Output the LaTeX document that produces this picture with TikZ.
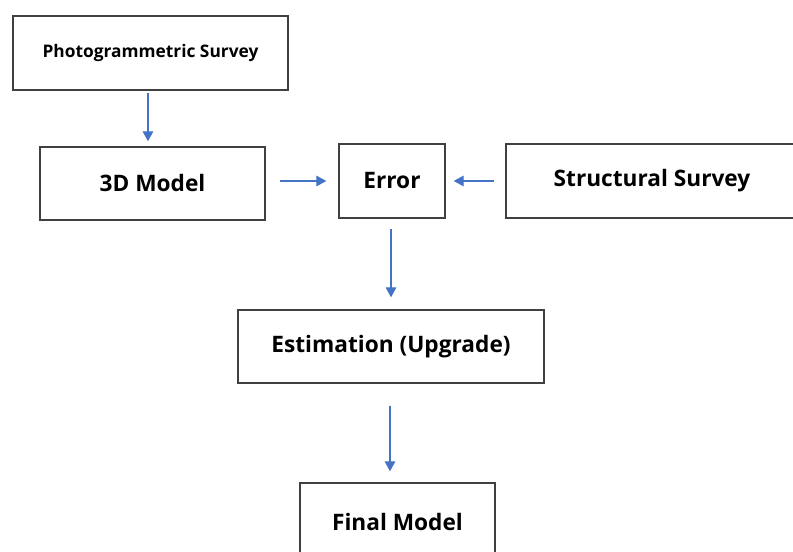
\documentclass[tikz,border=0pt]{standalone}
\usepackage{fontspec}
\setmainfont{Open Sans}
\usetikzlibrary{arrows.meta}
\definecolor{boxline}{HTML}{404040}
\definecolor{arrblue}{HTML}{4472C4}
\begin{document}
\begin{tikzpicture}[x=0.75pt,y=-0.75pt,
  box/.style={draw=boxline,line width=1.1pt,rectangle,inner sep=0pt,text=black},
  big/.style={font=\bfseries\fontsize{17}{20}\selectfont},
  arr/.style={draw=arrblue,line width=0.8pt,-{Triangle[width=8pt,length=7.5pt]}}]
\useasboundingbox (0,0) rectangle (793,552);
\clip (0,0) rectangle (793,552);
\node[box,minimum width=275*0.75pt,minimum height=74*0.75pt,font=\bfseries\fontsize{13}{15}\selectfont] (ps) at (150.5,53) {Photogrammetric Survey};
\node[box,big,minimum width=225*0.75pt,minimum height=73*0.75pt] (m3d) at (152.5,183.5) {3D Model};
\node[box,big,minimum width=106*0.75pt,minimum height=74*0.75pt] (err) at (392,181) {Error};
\node[box,big,minimum width=292*0.75pt,minimum height=74*0.75pt] (ss) at (652,181) {Structural Survey};
\node[box,big,minimum width=306*0.75pt,minimum height=73*0.75pt] (est) at (391,346.5) {Estimation (Upgrade)};
\node[box,big,minimum width=195*0.75pt,minimum height=77*0.75pt] (fin) at (397.5,521.5) {Final Model};
\draw[arr,shorten <=1.5pt,shorten >=3.75pt] ([xshift=-1.9pt]ps.south) -- ([xshift=-1.9pt]ps.south |- m3d.north);
\draw[arr,shorten <=10.5pt,shorten >=9pt] (m3d.east |- err.west) -- (err.west);
\draw[arr,shorten <=8.25pt,shorten >=6pt] (ss.west |- err.east) -- (err.east);
\draw[arr,shorten <=7.5pt,shorten >=9pt] ([xshift=-0.75pt]err.south) -- ([xshift=-0.75pt]err.south |- est.north);
\draw[arr,shorten <=16.5pt,shorten >=8.25pt] ([xshift=-0.75pt]est.south) -- ([xshift=-0.75pt]est.south |- fin.north);
\end{tikzpicture}
\end{document}
